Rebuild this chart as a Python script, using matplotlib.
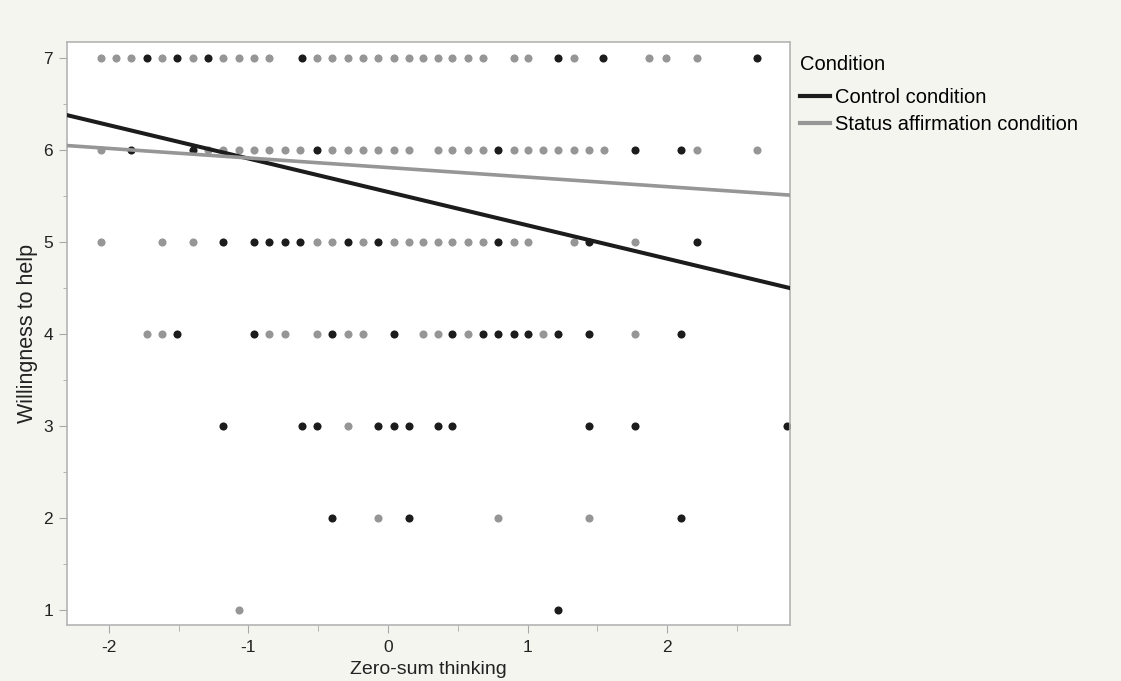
import numpy as np
import matplotlib
matplotlib.use('Agg')
import matplotlib.pyplot as plt
from matplotlib.lines import Line2D
from matplotlib.ticker import MultipleLocator

plt.rcParams['font.family'] = ['Liberation Sans', 'DejaVu Sans']

# willingness (y) rows, zero-sum scores (x) and condition ('C' control, 'S' status)
row7_x = [-2.06, -1.95, -1.84, -1.73, -1.62, -1.51, -1.40, -1.29, -1.18, -1.07, -0.96, -0.85,
          -0.62, -0.51, -0.40, -0.29, -0.18, -0.07, 0.04, 0.15, 0.25, 0.36, 0.46, 0.57, 0.68,
          0.90, 1.00, 1.22, 1.33, 1.54, 1.87, 1.99, 2.21, 2.64]
row7_c = "SSSCSCSCSSSSCSSSSSSSSSSSSSSCSCSSSC"

row6_x = [-2.06, -1.84, -1.40, -1.29, -1.18, -1.07, -0.96, -0.85, -0.74, -0.63, -0.51, -0.40,
          -0.29, -0.18, -0.07, 0.04, 0.15, 0.36, 0.46, 0.57, 0.68, 0.79, 0.90, 1.00, 1.11,
          1.22, 1.33, 1.44, 1.55, 1.77, 2.10, 2.21, 2.64]
row6_c = "SCCSSSSSSSCSSSSSSSSSSCSSSSSSSCCSS"

row5_x = [-2.06, -1.62, -1.40, -1.18, -0.96, -0.85, -0.74, -0.63, -0.51, -0.40, -0.29, -0.18,
          -0.07, 0.04, 0.15, 0.25, 0.36, 0.46, 0.57, 0.68, 0.79, 0.90, 1.00, 1.33, 1.44, 1.77, 2.21]
row5_c = "SSSCCCCCSSCSCSSSSSSSCSSSCSC"

row4_x = [-1.73, -1.62, -1.51, -0.96, -0.85, -0.74, -0.51, -0.40, -0.29, -0.18, 0.04, 0.25,
          0.36, 0.46, 0.57, 0.68, 0.79, 0.90, 1.00, 1.11, 1.22, 1.44, 1.77, 2.10]
row4_c = "SSCCSSSCSSCSSCSCCCCSCCSC"

row3_x = [-1.18, -0.62, -0.51, -0.29, -0.07, 0.04, 0.15, 0.36, 0.46, 1.44, 1.77, 2.86]
row3_c = "CCCSCCCCCCCC"

row2_x = [-0.40, -0.07, 0.15, 0.79, 1.44, 2.10]
row2_c = "CSCSSC"

row1_x = [-1.07, 1.22]
row1_c = "SC"

# fitted lines: intercept at x=0 and slope
fit_control = (5.545, -0.363)
fit_status = (5.81, -0.104)

labels = ['Control condition', 'Status affirmation condition']
col_c = '#1c1c1c'
col_s = '#969696'

fig = plt.figure(figsize=(11.21, 6.81), dpi=100)
fig.patch.set_facecolor('#f5f5f0')
ax = fig.add_axes([0.0598, 0.0822, 0.645, 0.856])
ax.set_facecolor('white')

rows = [(7, row7_x, row7_c), (6, row6_x, row6_c), (5, row5_x, row5_c), (4, row4_x, row4_c),
        (3, row3_x, row3_c), (2, row2_x, row2_c), (1, row1_x, row1_c)]
for yv, xs, cs in rows:
    xs = np.array(xs)
    cs = np.array(list(cs))
    ax.scatter(xs[cs == 'S'], np.full((cs == 'S').sum(), yv), s=34, color=col_s, lw=0, zorder=2)
    ax.scatter(xs[cs == 'C'], np.full((cs == 'C').sum(), yv), s=34, color=col_c, lw=0, zorder=2)

xl = (-2.30, 2.88)
t = np.array(xl)
ax.plot(t, fit_control[0] + fit_control[1] * t, color=col_c, lw=2.9, zorder=3)
ax.plot(t, fit_status[0] + fit_status[1] * t, color=col_s, lw=2.6, zorder=3)

ax.set_xlim(xl)
ax.set_ylim(0.837, 7.174)
ax.set_xticks([-2, -1, 0, 1, 2])
ax.set_xticklabels(['-2', '-1', '0', '1', '2'])
ax.xaxis.set_minor_locator(MultipleLocator(0.5))
ax.yaxis.set_minor_locator(MultipleLocator(0.5))
ax.set_yticks(range(1, 8))
ax.tick_params(which='both', colors='#a8a8a8', labelcolor='#222222', labelsize=12.5)
ax.tick_params(which='major', length=6, pad=4)
ax.tick_params(axis='x', which='major', pad=5)
ax.tick_params(which='minor', length=4)
ax.tick_params(axis='y', which='minor', length=3)
for sp in ax.spines.values():
    sp.set_color('#b4b4b4')
    sp.set_linewidth(1.2)

ax.set_xlabel('Zero-sum thinking', fontsize=14, color='#222222', labelpad=4)
ax.set_ylabel('Willingness to help', fontsize=15.5, color='#222222', labelpad=4)

handles = [Line2D([], [], color=col_c, lw=3), Line2D([], [], color=col_s, lw=3)]
leg = ax.legend(handles, labels, title='Condition', loc='upper left', bbox_to_anchor=(1.0, 0.995),
                frameon=False, fontsize=14.5, title_fontsize=14.5, handlelength=1.5,
                handletextpad=0.25, labelspacing=0.4, alignment='left', borderaxespad=0.0,
                borderpad=0.5)
leg._legend_box.sep = 10

fig.savefig('out.png', dpi=100, facecolor=fig.get_facecolor())
